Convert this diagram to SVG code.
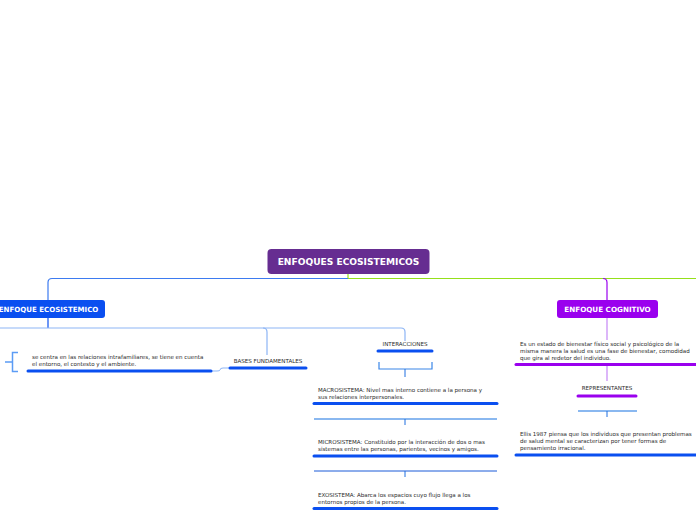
<svg xmlns="http://www.w3.org/2000/svg" width="696" height="520" viewBox="0 0 696 520">
<style>
.t{font-family:"DejaVu Sans",Verdana,sans-serif;font-size:5.55px;fill:#2a2a2a}
.h{font-family:"DejaVu Sans",Verdana,sans-serif;font-weight:bold;fill:#fff;text-anchor:middle}
.ub{stroke:#0a4ff0;stroke-width:3;stroke-linecap:round;fill:none}
.up{stroke:#9a00ee;stroke-width:3;stroke-linecap:round;fill:none}
.db{stroke:#1f6fe0;stroke-width:1;fill:none}
</style>
<rect width="696" height="520" fill="#fff"/>
<g id="connectors">
<path d="M348,274 V278.5 H696" stroke="#95e01a" stroke-width="1.2" fill="none"/>
<path d="M348,278.5 H52 Q48,278.5 48,282.5 V300" stroke="#3d7bf0" stroke-width="1.2" fill="none"/>
<path d="M603,278.5 Q607,278.5 607,282.5 V300" stroke="#9a00ee" stroke-width="1.2" fill="none"/>
<path d="M48,318 V328" stroke="#0a4ff0" stroke-width="1.2" fill="none"/>
<path d="M0,328 H401 Q405,328 405,332 V341" stroke="#8db5f5" stroke-width="1.2" fill="none"/>
<path d="M263,328 Q267,328 267,332 V355" stroke="#8db5f5" stroke-width="1.2" fill="none"/>
<path d="M229,368 H223 Q220,368 220,370 Q220,371 217,371 H212" stroke="#8db5f5" stroke-width="1" fill="none"/>
<path d="M18,352.5 H12.5 V371.5 H18 M12.5,362 H5" stroke="#5b9cf5" stroke-width="1.5" fill="none"/>
<path d="M379,362 V369 H432 V362" stroke="#3a86e8" stroke-width="1.2" fill="none"/>
<path d="M405,369 V377" class="db"/>
<path d="M314,419 H497" stroke="#8ab8f0" stroke-width="2" fill="none"/>
<path d="M405,419 V425" class="db"/>
<path d="M314,471 H497" stroke="#1a5ad8" stroke-width="1" fill="none"/>
<path d="M405,471 V477" class="db"/>
<path d="M607,318 V340" stroke="#c585f5" stroke-width="1.2" fill="none"/>
<path d="M607,364 V381" stroke="#c585f5" stroke-width="1.2" fill="none"/>
<path d="M578,411 H637" stroke="#8ab8f0" stroke-width="2" fill="none"/>
<path d="M607,411 V417" class="db"/>
</g>
<g id="root">
<rect x="267.5" y="249" width="162" height="25" rx="4" fill="#662d91"/>
<text class="h" x="348.5" y="265" font-size="9.1">ENFOQUES ECOSISTEMICOS</text>
</g>
<g id="ecosistemico">
<rect x="-10" y="300" width="115" height="18" rx="3" fill="#0a4ff0"/>
<text class="h" x="48.5" y="311.5" font-size="7.05">ENFOQUE ECOSISTEMICO</text>
</g>
<g id="cognitivo">
<rect x="557" y="300" width="101" height="18" rx="3" fill="#9a00ee"/>
<text class="h" x="607.5" y="311.5" font-size="7.2">ENFOQUE COGNITIVO</text>
</g>
<g id="se-centra">
<text class="t" x="32" y="359">se centra  en las relaciones intrafamiliares, se tiene en cuenta</text>
<text class="t" x="32" y="366">el entorno, el contesto y el ambiente.</text>
<path d="M28,371 H211" class="ub"/>
</g>
<g id="bases">
<text class="t" x="268" y="363" text-anchor="middle">BASES FUNDAMENTALES</text>
<path d="M230,368 H306" class="ub"/>
</g>
<g id="interacciones">
<text class="t" x="405" y="346" text-anchor="middle">INTERACCIONES</text>
<path d="M378,351 H432" class="ub"/>
</g>
<g id="macrosistema">
<text class="t" x="318" y="392">MACROSISTEMA: Nivel mas interno contiene a la persona y</text>
<text class="t" x="318" y="399">sus relaciones interpersonales.</text>
<path d="M314,403.5 H497" class="ub"/>
</g>
<g id="microsistema">
<text class="t" x="318" y="444">MICROSISTEMA: Constituido por la interacción de dos o mas</text>
<text class="t" x="318" y="451">sistemas entre las personas, parientes, vecinos y amigos.</text>
<path d="M314,456 H497" class="ub"/>
</g>
<g id="exosistema">
<text class="t" x="318" y="496.5">EXOSISTEMA: Abarca los espacios cuyo flujo llega a los</text>
<text class="t" x="318" y="503.5">entornos propios de la persona.</text>
<path d="M314,508.5 H497" class="ub"/>
</g>
<g id="estado">
<text class="t" x="520" y="346">Es un estado de bienestar físico social y psicológico de la</text>
<text class="t" x="520" y="353">misma manera la salud es una fase de bienestar, comodidad</text>
<text class="t" x="520" y="360">que gira al redetor del individuo.</text>
<path d="M516,364.5 H697" class="up"/>
</g>
<g id="representantes">
<text class="t" x="607" y="390" text-anchor="middle">REPRESENTANTES</text>
<path d="M578,396 H636" class="up"/>
</g>
<g id="ellis">
<text class="t" x="520" y="436">Ellis 1987 piensa que los individuos que presentan problemas</text>
<text class="t" x="520" y="443">de salud mental se caracterizan por tener formas de</text>
<text class="t" x="520" y="450">pensamiento irracional.</text>
<path d="M516,455 H697" class="ub"/>
</g>
</svg>
